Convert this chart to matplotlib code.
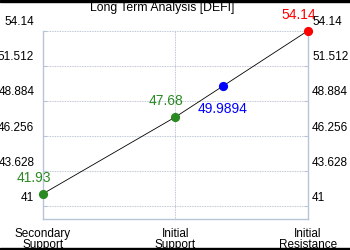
import matplotlib
matplotlib.use("Agg")
import matplotlib.pyplot as plt
from matplotlib.transforms import ScaledTranslation, blended_transform_factory
from matplotlib.patches import Rectangle

plt.rcParams['font.family'] = ['Liberation Sans', 'DejaVu Sans']

title = "Long Term Analysis [DEFI]"
categories = ["Secondary\nSupport", "Initial\nSupport", "Initial\nResistance"]
level_values = [41.93, 47.68, 54.14]
level_colors = ["#2a8a22", "#2a8a22", "#ff0000"]
current_value = 49.9894
current_color = "#0000ff"
ytick_values = [41, 43.628, 46.256, 48.884, 51.512, 54.14]
ytick_labels = ["41", "43.628", "46.256", "48.884", "51.512", "54.14"]
y_min = 40.03

fig = plt.figure(figsize=(3.5, 2.5), dpi=100)
ax = fig.add_axes([42.7/350, 1-219.3/250, (308-42.7)/350, (219.3-30.7)/250])

xs = list(range(len(categories)))
ax.plot(xs, level_values, color="black", lw=0.6, zorder=2)
for x, v, c in zip(xs, level_values, level_colors):
    ax.plot([x], [v], 'o', color=c, ms=5.6, zorder=3, clip_on=False)
    ax.annotate(f"{v:g}", (x, v), xytext=(-9, 9), textcoords="offset pixels",
                ha="center", va="bottom", color=c, fontsize=10, annotation_clip=False)

# current price lies on the segment between initial support and resistance
cx = 1 + (current_value - level_values[1]) / (level_values[2] - level_values[1])
ax.plot([cx], [current_value], 'o', color=current_color, ms=5.6, zorder=3)
ax.annotate(f"{current_value:g}", (cx, current_value), xytext=(0, -16),
            textcoords="offset pixels", ha="center", va="top",
            color=current_color, fontsize=10)

ax.set_xlim(0, 2)
ax.set_ylim(y_min, 54.14)
ax.set_xticks(xs)
ax.set_xticklabels(categories, fontsize=8.5, linespacing=0.9)
ax.set_yticks(ytick_values)
ax.set_yticklabels([])

spine_c = "#b8c4d8"
for s in ["left", "right", "bottom"]:
    ax.spines[s].set_color(spine_c)
    ax.spines[s].set_linewidth(1.0)
ax.spines["top"].set_visible(False)

ax.grid(True, color="#a8b4c8", linestyle=(0, (1, 1)), linewidth=0.6)
ax.tick_params(axis="y", direction="in", length=3, color=spine_c,
               left=True, right=True, labelleft=False, labelright=False)
ax.tick_params(axis="x", length=0, pad=6)

# y tick labels drawn slightly above their gridlines, on both sides
trans = blended_transform_factory(ax.transAxes, ax.transData)
up = ScaledTranslation(0, 8.5/100, fig.dpi_scale_trans)
for v, lab in zip(ytick_values, ytick_labels):
    ax.text(0, v, lab, transform=trans + ScaledTranslation(-8.5/100, 8.5/100, fig.dpi_scale_trans),
            ha="right", va="center", fontsize=8.5, clip_on=False)
    ax.text(1, v, lab, transform=trans + ScaledTranslation(4/100, 8.5/100, fig.dpi_scale_trans),
            ha="left", va="center", fontsize=8.5, clip_on=False)

fig.text(162/350, 1-8/250, title, ha="center", va="center", fontsize=8.8)

fig.patches.append(Rectangle((0, 1-1.5/250), 1, 1.5/250, transform=fig.transFigure,
                             color="black", zorder=10))
fig.patches.append(Rectangle((0, 0), 1, 2.5/250, transform=fig.transFigure,
                             color="black", zorder=10))

fig.savefig("out.png", dpi=100, facecolor="white")
